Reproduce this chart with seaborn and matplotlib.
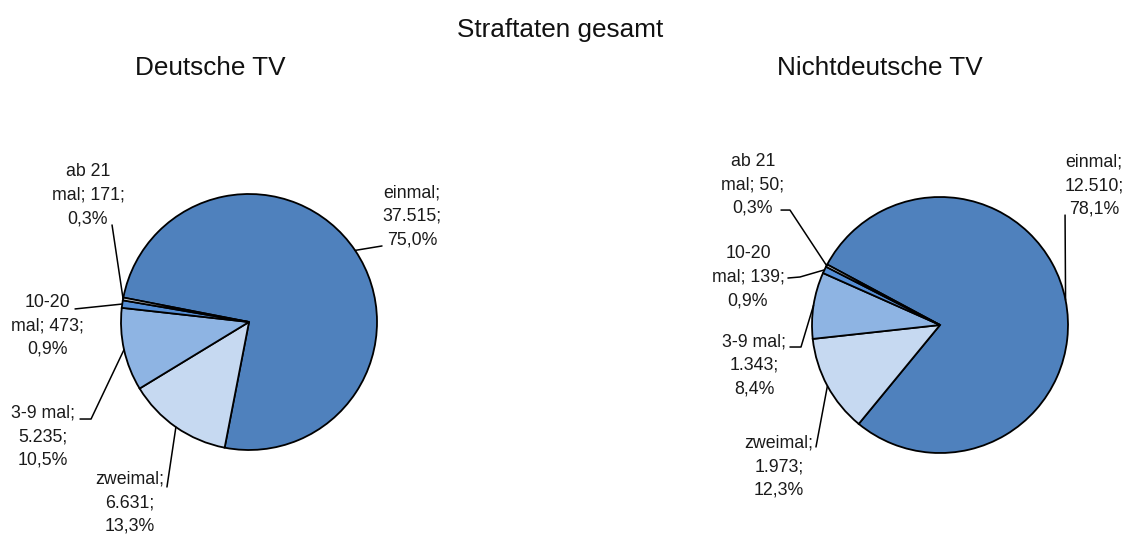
import textwrap
import matplotlib
matplotlib.use("Agg")
import matplotlib.pyplot as plt
import numpy as np
import seaborn as sns

# ---------------- data ----------------
main_title = "Straftaten gesamt"
panel_titles = ["Deutsche TV", "Nichtdeutsche TV"]
categories = ["einmal", "zweimal", "3-9 mal", "10-20 mal", "ab 21 mal"]
deutsche = [37515, 6631, 5235, 473, 171]
nichtdeutsche = [12510, 1973, 1343, 139, 50]

# ---------------- style ----------------
colors = ["#4F81BD", "#C6D9F1", "#8EB4E3", "#558ED5", "#DCE6F2"]

sns.set_theme(style="white")
plt.rcParams["font.family"] = ["Liberation Sans", "DejaVu Sans"]

W, H = 1126, 537
R = 128  # pie radius in px
fig = plt.figure(figsize=(W / 100, H / 100), dpi=100)
fig.patch.set_facecolor("white")

# layout per panel: centre (px), start angle, title x (px), label positions (radius units)
layout = [
    dict(cx=249, cy=322, start=169.0, title_x=210,
         text=[(1.273, 0.828), (-0.930, -1.414), (-1.609, -0.898), (-1.578, -0.031), (-1.258, 0.992)],
         leader=[[(1.039, 0.594)], [(-0.641, -1.289)], [(-1.320, -0.758), (-1.234, -0.758)],
                 [(-1.359, 0.102)], [(-1.070, 0.758)]]),
    dict(cx=940, cy=325, start=151.8, title_x=880,
         text=[(1.203, 1.086), (-1.258, -1.109), (-1.453, -0.313), (-1.5, 0.375), (-1.461, 1.094)],
         leader=[[(0.977, 0.859)], [(-0.969, -0.953)], [(-1.172, -0.172), (-1.086, -0.172)],
                 [(-1.188, 0.367), (-1.094, 0.375)], [(-1.242, 0.898), (-1.172, 0.898)]]),
]


def de_int(n):
    return f"{n:,}".replace(",", ".")


def make_label(name, n, total):
    pct = f"{n / total * 100:.1f}".replace(".", ",") + "%"
    s = f"{name}; {de_int(n)}; {pct}"
    return textwrap.fill(s, width=9, break_on_hyphens=False)


for values, ptitle, lay in zip([deutsche, nichtdeutsche], panel_titles, layout):
    half = 200
    ax = fig.add_axes([(lay["cx"] - half) / W, (H - lay["cy"] - half) / H,
                       2 * half / W, 2 * half / H])
    wedges, _ = ax.pie(values, colors=colors, startangle=lay["start"], counterclock=False,
                       radius=1.0,
                       wedgeprops=dict(edgecolor="black", linewidth=1.3))
    lim = half / R
    ax.set_xlim(-lim, lim)
    ax.set_ylim(-lim, lim)
    ax.set_aspect("equal")
    ax.axis("off")

    total = sum(values)
    for i, (w, name, n) in enumerate(zip(wedges, categories, values)):
        mid = np.deg2rad((w.theta1 + w.theta2) / 2)
        edge = (np.cos(mid), np.sin(mid))
        pts = lay["leader"][i] + [edge]
        xs, ys = zip(*pts)
        ax.plot(xs, ys, color="black", lw=1.1, clip_on=False, zorder=5)
        tx, ty = lay["text"][i]
        ax.text(tx, ty, make_label(name, n, total), ha="center", va="center",
                multialignment="center", fontsize=12.8, color="#1a1a1a",
                linespacing=1.5, clip_on=False)

    fig.text(lay["title_x"] / W, 1 - 68 / H, ptitle,
             ha="center", va="center", fontsize=18.8, color="#111111")

fig.text(560 / W, 1 - 30 / H, main_title, ha="center", va="center", fontsize=18.8, color="#111111")

fig.savefig("out.png", dpi=100, facecolor="white")
